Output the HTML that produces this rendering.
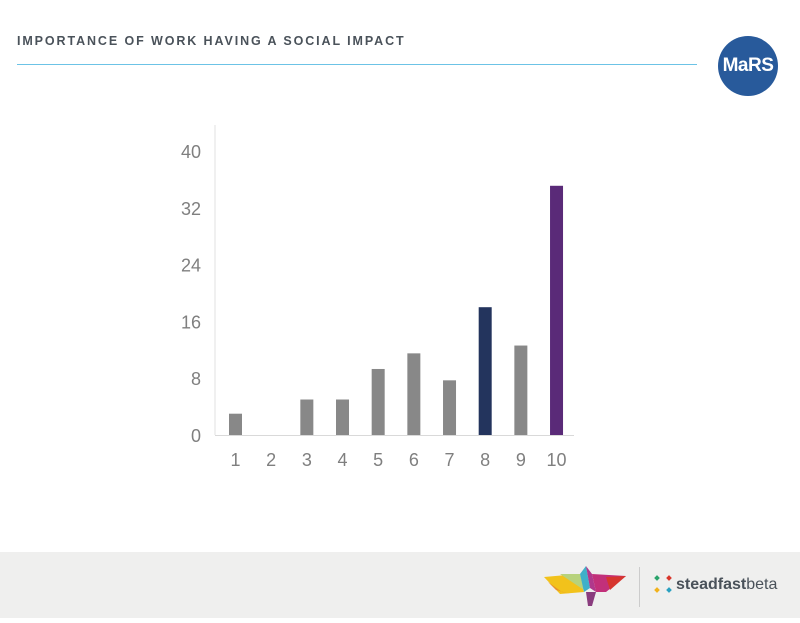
<!DOCTYPE html>
<html><head><meta charset="utf-8">
<style>
body{margin:0;width:800px;height:618px;background:#fff;position:relative;overflow:hidden;font-family:"Liberation Sans",sans-serif}
#title{position:absolute;left:17px;top:34px;font-size:12.5px;font-weight:bold;letter-spacing:1.9px;color:#4a525a}
#rule{position:absolute;left:17px;top:64px;width:680px;height:1px;background:#6cc3e6}
#mars{position:absolute;left:718px;top:36px;width:60px;height:60px;border-radius:50%;background:#285a9b;color:#fff;font-weight:bold;font-size:19px;line-height:60px;text-align:center;letter-spacing:-0.5px}
#footer{position:absolute;left:0;top:552px;width:800px;height:66px;background:#efefee}
</style></head><body>
<div id="title">IMPORTANCE OF WORK HAVING A SOCIAL IMPACT</div>
<div id="rule"></div>
<div id="mars">MaRS</div>
<svg id="chart" width="800" height="618" style="position:absolute;left:0;top:0"></svg>
<div id="footer">
<svg width="800" height="66">
 <g>
  <polygon points="544,25 578,22 584,40 560,42" fill="#f2c21b"/>
  <polygon points="560,22 580,22 584,38" fill="#b7d27c"/>
  <polygon points="580,22 586,14 590,36 584,40" fill="#3fb0c9"/>
  <polygon points="586,14 592,22 596,40 590,36" fill="#b0388c"/>
  <polygon points="592,22 626,24 606,40 596,40" fill="#c2307a"/>
  <polygon points="606,25 626,24 610,38" fill="#d6352e"/>
  <polygon points="548,30 562,40 570,42 556,38" fill="#e8912b"/>
  <polygon points="586,40 596,40 592,54 588,54" fill="#8a3c7e"/>
 </g>
 <rect x="639" y="15" width="1" height="40" fill="#ccc"/>
 <g>
  <rect x="655" y="24" width="4" height="4" fill="#2aa36b" transform="rotate(45 657 26)"/>
  <rect x="667" y="24" width="4" height="4" fill="#d9362b" transform="rotate(45 669 26)"/>
  <rect x="655" y="36" width="4" height="4" fill="#f1b21c" transform="rotate(45 657 38)"/>
  <rect x="667" y="36" width="4" height="4" fill="#2aa0c0" transform="rotate(45 669 38)"/>
  <text x="676" y="37" font-size="16" fill="#4a525a" font-family="Liberation Sans, sans-serif"><tspan font-weight="bold">steadfast</tspan>beta</text>
 </g>
</svg>
</div>
<script>
const categories=["1","2","3","4","5","6","7","8","9","10"];
const values=[3,0,5,5,9.3,11.5,7.7,18,12.6,35.1];
const colors=["#888","#888","#888","#888","#888","#888","#888","#23345d","#888","#5a2a78"];
const yTicks=[0,8,16,24,32,40];
const svg=document.getElementById('chart');
const NS='http://www.w3.org/2000/svg';
const x0=215,x1=574,y0=435,yTop=151;
const y=v=>y0-(v/40)*(y0-yTop);
const step=35.67,first=235.5;
const x=i=>first+i*step;
function mk(t,a){const e=document.createElementNS(NS,t);for(const k in a)e.setAttribute(k,a[k]);svg.appendChild(e);return e;}
let ax=mk('line',{x1:x0,y1:125,x2:x0,y2:y0,stroke:'#e2e2e2','stroke-width':1});


let bx=mk('line',{x1:x0,y1:y0+0.5,x2:x1,y2:y0+0.5,stroke:'#d9d9d9','stroke-width':1});


yTicks.forEach(t=>{const e=mk('text',{x:201,y:y(t)+7,'text-anchor':'end','font-size':18,fill:'#7f7f7f','font-family':'Liberation Sans, sans-serif'});e.textContent=t;

});
categories.forEach((c,i)=>{
 if(values[i]>0){const r=mk('rect',{x:x(i)-6.5,y:y(values[i]),width:13,height:y0-y(values[i]),fill:colors[i]});
 
 }
 const t=mk('text',{x:x(i),y:466,'text-anchor':'middle','font-size':18,fill:'#7f7f7f','font-family':'Liberation Sans, sans-serif'});t.textContent=c;
 
 
});
</script>
</body></html>
